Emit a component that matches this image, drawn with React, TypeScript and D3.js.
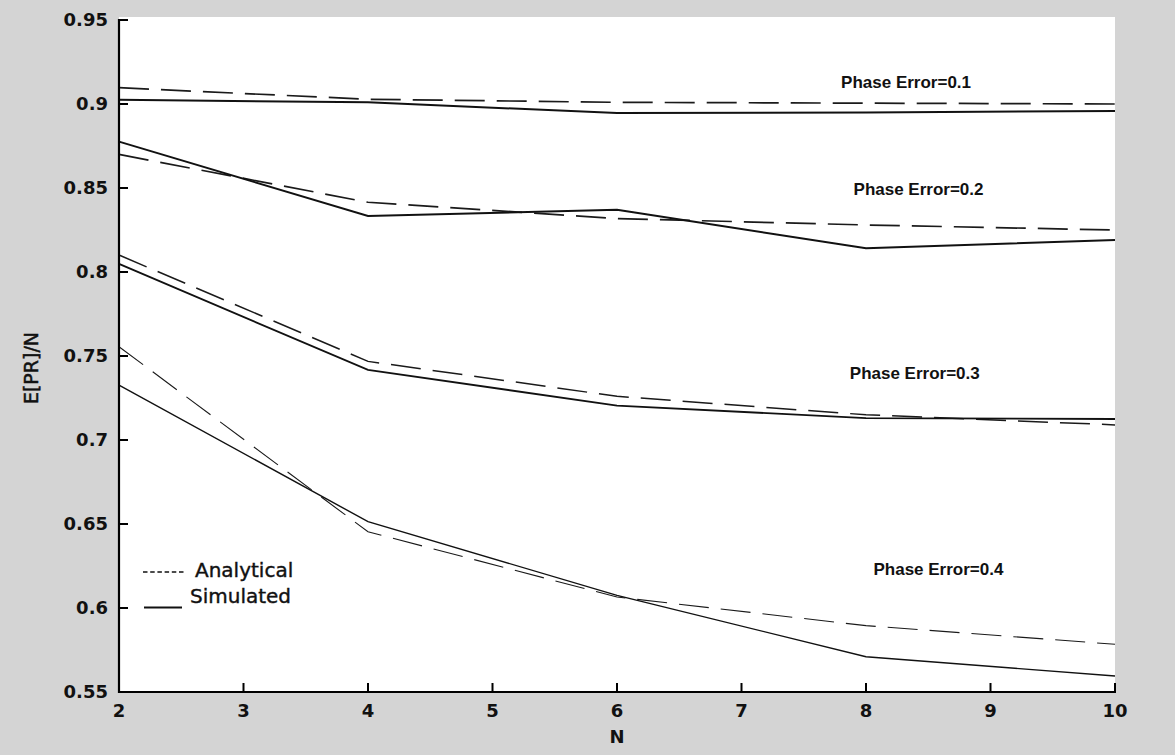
import React from "react";
import * as d3 from "d3";

const nValues = [2, 4, 6, 8, 10];
const analytical01 = [0.9097, 0.9028, 0.901, 0.9005, 0.9];
const simulated01 = [0.9025, 0.901, 0.8946, 0.895, 0.8958];
const analytical02 = [0.87, 0.8415, 0.8318, 0.828, 0.825];
const simulated02 = [0.8776, 0.8333, 0.8371, 0.8141, 0.819];
const analytical03 = [0.8101, 0.7468, 0.726, 0.715, 0.709];
const simulated03 = [0.8048, 0.7417, 0.7205, 0.713, 0.7125];
const analytical04 = [0.7555, 0.6454, 0.6065, 0.5895, 0.5784];
const simulated04 = [0.7327, 0.6514, 0.6075, 0.571, 0.5595];

const xTicks = [2, 3, 4, 5, 6, 7, 8, 9, 10];
const yTicks = [0.55, 0.6, 0.65, 0.7, 0.75, 0.8, 0.85, 0.9, 0.95];

const phaseLabels = ["Phase Error=0.1", "Phase Error=0.2", "Phase Error=0.3", "Phase Error=0.4"];
const labelAnchors = [
  { n: 7.8, v: 0.9097 },
  { n: 7.9, v: 0.8457 },
  { n: 7.87, v: 0.7365 },
  { n: 8.06, v: 0.6198 },
];

const series = [
  { a: analytical01, s: simulated01, w: 2 },
  { a: analytical02, s: simulated02, w: 2 },
  { a: analytical03, s: simulated03, w: 1.8 },
  { a: analytical04, s: simulated04, w: 1.4 },
];

export default function App() {
  const W = 1175;
  const H = 755;
  const left = 119;
  const right = 1115;
  const top = 20;
  const bottom = 692;
  const x = d3.scaleLinear().domain([2, 10]).range([left, right]);
  const y = d3.scaleLinear().domain([0.55, 0.95]).range([bottom, top]);
  const line = d3
    .line<[number, number]>()
    .x((d) => x(d[0]))
    .y((d) => y(d[1]));
  const pts = (vals: number[]) => nValues.map((n, i) => [n, vals[i]] as [number, number]);

  const tickFont = "DejaVu Sans, sans-serif";
  const labelFont = "Liberation Sans, Arial, sans-serif";

  return (
    <svg
      width={W}
      height={H}
      style={{ position: "absolute", left: 0, top: 0, display: "block" }}
      xmlns="http://www.w3.org/2000/svg"
    >
      <rect x={0} y={0} width={W} height={H} fill="#d4d4d4" />
      <rect x={left} y={17} width={right - left} height={bottom - 17} fill="#ffffff" />

      {series.map((sr, i) => (
        <g key={i}>
          <path
            d={line(pts(sr.a)) || ""}
            fill="none"
            stroke="#1a1a1a"
            strokeWidth={sr.w - 0.3}
            strokeDasharray="30 12"
          />
          <path d={line(pts(sr.s)) || ""} fill="none" stroke="#111" strokeWidth={sr.w} />
        </g>
      ))}

      <line x1={left} x2={left} y1={top - 1} y2={bottom + 1} stroke="#000" strokeWidth={2.2} />
      <line x1={left - 1} x2={right + 1} y1={bottom} y2={bottom} stroke="#000" strokeWidth={2.2} />

      {yTicks.map((t) => (
        <g key={"y" + t}>
          <line x1={left} x2={left + 9} y1={y(t)} y2={y(t)} stroke="#000" strokeWidth={2} />
          <text
            x={108}
            y={y(t)}
            dy="0.36em"
            textAnchor="end"
            fontFamily={tickFont}
            fontWeight="bold"
            fontSize={18}
            fill="#111"
          >
            {String(t)}
          </text>
        </g>
      ))}

      {xTicks.map((t) => (
        <g key={"x" + t}>
          <line x1={x(t)} x2={x(t)} y1={bottom} y2={bottom - 9} stroke="#000" strokeWidth={2} />
          <text
            x={x(t)}
            y={717}
            textAnchor="middle"
            fontFamily={tickFont}
            fontWeight="bold"
            fontSize={18}
            fill="#111"
          >
            {t}
          </text>
        </g>
      ))}

      <text x={617} y={743} textAnchor="middle" fontFamily={tickFont} fontWeight="bold" fontSize={18} fill="#111">
        N
      </text>
      <text
        transform={`translate(38, 368) rotate(-90)`}
        textAnchor="middle"
        fontFamily={tickFont}
        fontSize={19}
        fill="#111"
        stroke="#111"
        strokeWidth={0.5}
      >
        E[PR]/N
      </text>

      {phaseLabels.map((lab, i) => (
        <text
          key={lab}
          x={x(labelAnchors[i].n)}
          y={y(labelAnchors[i].v)}
          fontFamily={labelFont}
          fontWeight="bold"
          fontSize={17}
          fill="#111"
        >
          {lab}
        </text>
      ))}

      <line x1={143} x2={185} y1={572} y2={572} stroke="#111" strokeWidth={1.5} strokeDasharray="4.5 2.7" />
      <text x={195} y={577} fontFamily={tickFont} fontSize={20} fill="#111" stroke="#111" strokeWidth={0.4}>
        Analytical
      </text>
      <line x1={144} x2={182} y1={607.5} y2={607.5} stroke="#111" strokeWidth={2} />
      <text x={190} y={603} fontFamily={tickFont} fontSize={20} fill="#111" stroke="#111" strokeWidth={0.4}>
        Simulated
      </text>
    </svg>
  );
}
